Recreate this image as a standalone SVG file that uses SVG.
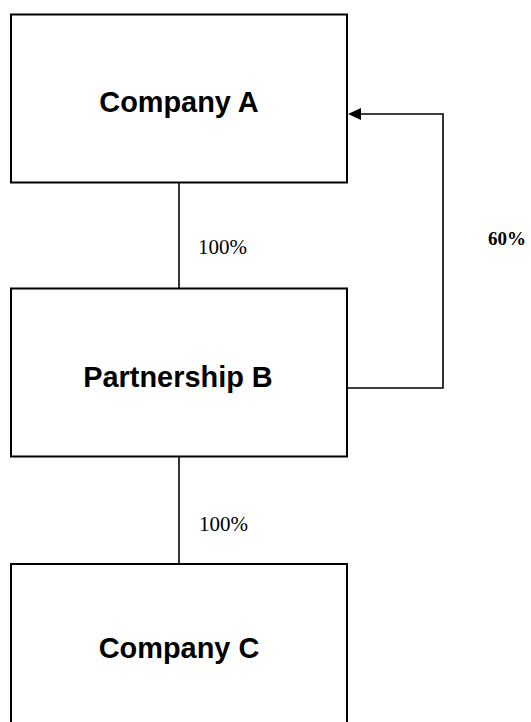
<svg xmlns="http://www.w3.org/2000/svg" width="531" height="722" viewBox="0 0 531 722">
  <style>
    .box { fill: #ffffff; stroke: #000000; stroke-width: 2; }
    .name { font-family: "Liberation Sans", Arial, sans-serif; font-weight: bold; font-size: 28.9px; fill: #000000; text-anchor: middle; }
    .pct { font-family: "Liberation Serif", "Times New Roman", serif; font-size: 21px; fill: #000000; }
    .pctb { font-family: "Liberation Serif", "Times New Roman", serif; font-size: 19px; font-weight: bold; fill: #000000; }
    .line { fill: none; stroke: #000000; stroke-width: 1.6; }
  </style>
  <rect width="531" height="722" fill="#ffffff"/>
  <g id="connectors">
    <line class="line" x1="179" y1="182" x2="179" y2="290"/>
    <line class="line" x1="179" y1="457" x2="179" y2="565"/>
    <path class="line" d="M347,388 H443 V114 H361" />
    <path d="M348,114 L361,108 L361,120 Z" fill="#000000"/>
    <text class="pct" x="198" y="254">100%</text>
    <text class="pctb" x="488" y="245">60%</text>
    <text class="pct" x="199" y="531">100%</text>
  </g>
  <g id="companyA">
    <rect class="box" x="11" y="14.5" width="336" height="168"/>
    <text class="name" x="179" y="112">Company A</text>
  </g>
  <g id="partnershipB">
    <rect class="box" x="11" y="288.5" width="336" height="168"/>
    <text class="name" x="178" y="387">Partnership B</text>
  </g>
  <g id="companyC">
    <rect class="box" x="11" y="564" width="336" height="170"/>
    <text class="name" x="179" y="658">Company C</text>
  </g>
</svg>
